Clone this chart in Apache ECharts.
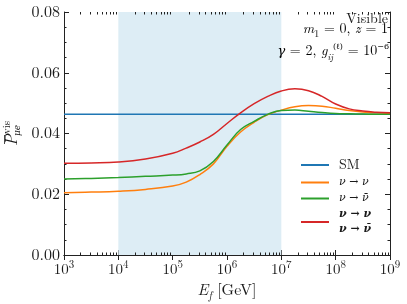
<!DOCTYPE html>
<html><head><meta charset="utf-8">
<script src="https://cdn.jsdelivr.net/npm/echarts@6/dist/echarts.min.js"></script>
<style>html,body{margin:0;padding:0;background:#fff}#c{width:407px;height:304px}</style>
</head><body><div id="c"></div>
<script>
// ---- data ----
const logE    = [3, 3.5, 4, 4.5, 5, 5.25, 5.5, 5.75, 6, 6.25, 6.5, 6.75, 7, 7.25, 7.5, 7.75, 8, 8.25, 8.5, 8.75, 9];
const smValue = 0.0463;
const nuToNu    = [0.0205,0.0207,0.0210,0.0216,0.0227,0.0240,0.0265,0.0300,0.0358,0.0405,0.0437,0.0462,0.0477,0.0488,0.0492,0.0490,0.0483,0.0476,0.0471,0.0468,0.0466];
const nuToNubar = [0.0250,0.0252,0.0255,0.0259,0.0263,0.0267,0.0277,0.0308,0.0362,0.0413,0.0440,0.0463,0.0476,0.0477,0.0473,0.0469,0.0466,0.0465,0.0464,0.0463,0.0463];
const nuBoth    = [0.0302,0.0303,0.0306,0.0316,0.0335,0.0352,0.0372,0.0397,0.0433,0.0468,0.0498,0.0522,0.0540,0.0547,0.0541,0.0522,0.0497,0.0481,0.0474,0.0470,0.0468];
const xExpMin = 3, xExpMax = 9;
const yMin = 0, yMax = 0.08, yStep = 0.02;
const bandRange = [1e4, 1e7];
const seriesNames = ['SM', 'ν → ν', 'ν → ν̄', 'ν → ν\nν → ν̄'];
const colors = ['#1f77b4', '#ff7f0e', '#2ca02c', '#d62728'];

const FONT = '"Latin Modern Roman", "DejaVu Serif", serif';
const GREEK = '"DejaVu Serif", serif';
const TXT = '#1a1a1a';
const toPairs = arr => arr.map((v, i) => [Math.pow(10, logE[i]), v]);
const minorX = [];
for (let n = xExpMin; n < xExpMax; n++) for (let k = 2; k <= 9; k++) minorX.push([k * Math.pow(10, n), 0]);

const chart = echarts.init(document.getElementById('c'), null, {renderer: 'canvas'});
const axisCol = '#222';
const supRich = {
  b: {fontFamily: FONT, fontSize: 15, color: TXT, lineHeight: 18, verticalAlign: 'bottom'},
  s: {fontFamily: FONT, fontSize: 11, color: TXT, lineHeight: 18, verticalAlign: 'top'}
};
const xAxisCommon = {
  type: 'log', logBase: 10, min: Math.pow(10, xExpMin), max: Math.pow(10, xExpMax),
  axisLine: {show: true, lineStyle: {color: axisCol, width: 1}},
  axisTick: {show: true, inside: true, length: 5, lineStyle: {color: axisCol}},
  minorTick: {show: false},
  splitLine: {show: false}
};
const yAxisCommon = {
  type: 'value', min: yMin, max: yMax, interval: yStep,
  axisLine: {show: true, lineStyle: {color: axisCol, width: 1}},
  axisTick: {show: true, inside: true, length: 5, lineStyle: {color: axisCol}},
  minorTick: {show: true, splitNumber: 4, length: 2.5, lineStyle: {color: axisCol}},
  splitLine: {show: false}
};

const lineSeries = [smValue, nuToNu, nuToNubar, nuBoth].map((d, i) => ({
  name: seriesNames[i],
  type: 'line',
  symbol: 'none',
  smooth: i === 0 ? false : 0.45,
  data: i === 0 ? [[Math.pow(10, xExpMin), d], [Math.pow(10, xExpMax), d]] : toPairs(d),
  lineStyle: {color: colors[i], width: 1.5},
  itemStyle: {color: colors[i]},
  z: 3,
  markArea: i === 0 ? {
    silent: true,
    itemStyle: {color: '#ddedf5'},
    data: [[{xAxis: bandRange[0]}, {xAxis: bandRange[1]}]]
  } : undefined
}));

const option = {
  animation: false,
  backgroundColor: '#fff',
  grid: {left: 64, right: 17, top: 12, bottom: 49, containLabel: false, outerBoundsMode: 'none'},
  xAxis: [
    Object.assign({}, xAxisCommon, {
      position: 'bottom',
      axisLabel: {
        margin: 4,
        formatter: v => '{b|10}{s|' + Math.round(Math.log10(v)) + '}',
        rich: supRich
      },
      name: '{i|E}{sub|f}{r| [GeV]}',
      nameLocation: 'middle', nameGap: 20,
      nameTextStyle: {
        fontFamily: FONT, fontSize: 15, color: TXT,
        rich: {
          i: {fontFamily: FONT, fontStyle: 'italic', fontSize: 16, color: TXT, lineHeight: 19, verticalAlign: 'top'},
          r: {fontFamily: FONT, fontSize: 16, color: TXT, lineHeight: 19, verticalAlign: 'top'},
          sub: {fontFamily: FONT, fontStyle: 'italic', fontSize: 11, color: TXT, lineHeight: 19, verticalAlign: 'bottom'}
        }
      }
    }),
    Object.assign({}, xAxisCommon, {position: 'top', axisLabel: {show: false}})
  ],
  yAxis: [
    Object.assign({}, yAxisCommon, {
      position: 'left',
      axisLabel: {margin: 4, fontFamily: FONT, fontSize: 16, color: TXT, formatter: v => v.toFixed(2)}
    }),
    Object.assign({}, yAxisCommon, {position: 'right', axisLabel: {show: false}})
  ],
  legend: {
    data: seriesNames,
    orient: 'vertical',
    left: 296, top: 153,
    itemWidth: 28, itemHeight: 2, itemGap: 5,
    icon: 'rect',
    formatter: name => {
      if (name === seriesNames[0]) return '{r|SM}';
      if (name === seriesNames[3]) return '{bb|ν → ν}\n{bb|ν → ν̄}';
      return '{i|' + name + '}';
    },
    textStyle: {
      fontFamily: FONT, fontSize: 13, color: TXT, padding: [0, 0, 0, 5],
      rich: {
        r: {fontFamily: FONT, fontSize: 14, color: TXT, lineHeight: 14},
        i: {fontFamily: GREEK, fontStyle: 'italic', fontSize: 11, color: TXT, lineHeight: 14},
        bb: {fontFamily: GREEK, fontStyle: 'italic', fontWeight: 'bold', fontSize: 11, color: TXT, lineHeight: 15}
      }
    }
  },
  series: lineSeries.concat([{
    name: 'minorTicksX',
    type: 'custom',
    silent: true,
    clip: false,
    z: 5,
    data: minorX,
    renderItem: (params, api) => {
      const x = api.value(0);
      const b = api.coord([x, yMin]);
      const t = api.coord([x, yMax]);
      const st = {stroke: axisCol, lineWidth: 1};
      return {type: 'group', children: [
        {type: 'line', shape: {x1: Math.round(b[0]) + 0.5, y1: b[1], x2: Math.round(b[0]) + 0.5, y2: b[1] - 2.5}, style: st},
        {type: 'line', shape: {x1: Math.round(t[0]) + 0.5, y1: t[1], x2: Math.round(t[0]) + 0.5, y2: t[1] + 2.5}, style: st}
      ]};
    }
  }]),
  graphic: [
    {
      type: 'text', right: 19, top: 12, z: 100,
      style: {text: 'Visible', fontFamily: FONT, fontSize: 14, fill: TXT, textAlign: 'right'}
    },
    {
      type: 'text', right: 19, top: 22, z: 100,
      style: {
        text: '{i|m}{sub|1}{r| = 0, }{i|z}{r| = 1}',
        textAlign: 'right',
        rich: {
          i: {fontFamily: FONT, fontStyle: 'italic', fontSize: 14, color: TXT, lineHeight: 17, verticalAlign: 'top'},
          r: {fontFamily: FONT, fontSize: 14, color: TXT, lineHeight: 17, verticalAlign: 'top'},
          sub: {fontFamily: FONT, fontSize: 10, color: TXT, lineHeight: 17, verticalAlign: 'bottom'}
        }
      }
    },
    {
      type: 'text', right: 18, top: 43, z: 100,
      style: {
        text: '{g|γ}{r| = 2, }{i|g}{sub|ij}{sup|(ℓ)}{r| = 10}{sup|−6}',
        textAlign: 'right',
        rich: {
          g: {fontFamily: FONT, fontStyle: 'italic', fontSize: 13, color: TXT, lineHeight: 19, verticalAlign: 'top', padding: [2, 0, 0, 0]},
          i: {fontFamily: FONT, fontStyle: 'italic', fontSize: 14, color: TXT, lineHeight: 19, verticalAlign: 'top', padding: [1, 0, 0, 0]},
          r: {fontFamily: FONT, fontSize: 14, color: TXT, lineHeight: 19, verticalAlign: 'top', padding: [1, 0, 0, 0]},
          sub: {fontFamily: FONT, fontStyle: 'italic', fontSize: 9, color: TXT, lineHeight: 19, verticalAlign: 'bottom'},
          sup: {fontFamily: GREEK, fontSize: 8, color: TXT, lineHeight: 19, verticalAlign: 'top'}
        }
      }
    },
    {
      type: 'group', x: 12, y: 146, rotation: Math.PI / 2, z: 100,
      children: [
        {type: 'text', x: 0, y: 0, style: {text: 'P', fontFamily: FONT, fontStyle: 'italic', fontSize: 17, fill: TXT, textAlign: 'left', textVerticalAlign: 'middle'}},
        {type: 'line', shape: {x1: 2, y1: -7.5, x2: 11, y2: -7.5}, style: {stroke: TXT, lineWidth: 0.8}},
        {type: 'text', x: 12, y: -5, style: {text: 'vis', fontFamily: FONT, fontSize: 11, fill: TXT, textAlign: 'left', textVerticalAlign: 'middle'}},
        {type: 'text', x: 10, y: 6, style: {text: 'μe', fontFamily: GREEK, fontStyle: 'italic', fontSize: 9, fill: TXT, textAlign: 'left', textVerticalAlign: 'middle'}}
      ]
    }
  ]
};
chart.setOption(option);
</script>
</body></html>
